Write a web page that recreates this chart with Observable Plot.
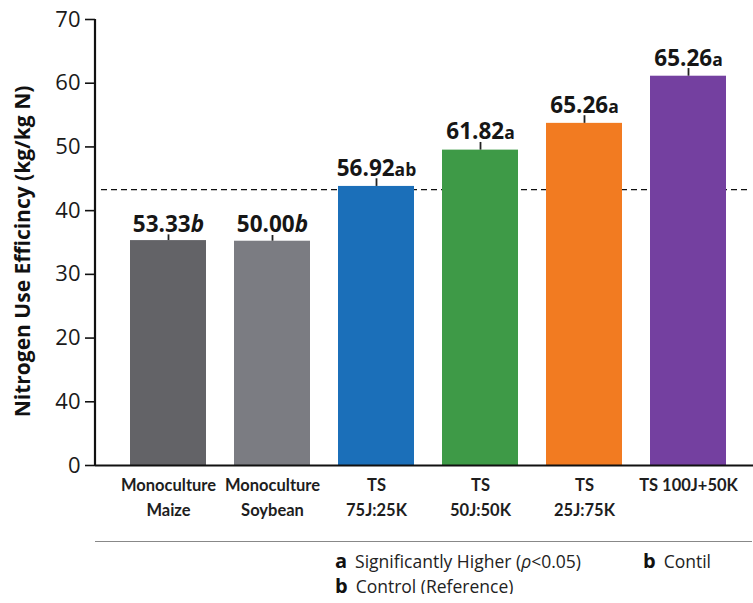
<!DOCTYPE html>
<html>
<head>
<meta charset="utf-8">
<script src="https://cdn.jsdelivr.net/npm/d3@7"></script>
<script src="https://cdn.jsdelivr.net/npm/@observablehq/plot@0.6"></script>
<style>
  html, body { margin: 0; background: #fff; font-family: "Open Sans", Lato, sans-serif; overflow: hidden; }
  #chart svg { display: block; }
  .rule { margin: 13px 0 0 95px; width: 657px; border-top: 1.5px solid #888; }
  .legend { position: relative; height: 52px; color: #222; font-size: 17.5px; }
  .legend div { position: absolute; white-space: nowrap; line-height: 22px; height: 22px; }
  .legend b { font-size: 20px; line-height: 20px; margin-right: 8px; color: #111; }
</style>
</head>
<body>
<div id="chart"></div>
<div class="rule"></div>
<div class="legend" id="legend"></div>
<script>
const categories = ["Monoculture\nMaize", "Monoculture\nSoybean", "TS\n75J:25K", "TS\n50J:50K", "TS\n25J:75K", "TS 100J+50K"];
const values = [35.3, 35.2, 43.8, 49.5, 53.7, 61.1];
const errors = [0.9, 0.9, 1.2, 1.2, 1.2, 1.2];
const labelNumbers = ["53.33", "50.00", "56.92", "61.82", "65.26", "65.26"];
const labelLetters = ["b", "b", "ab", "a", "a", "a"];
const colors = ["#636367", "#7b7c82", "#1b6fb9", "#3e9a47", "#f27b21", "#7440a0"];
const referenceLine = 43.3;
const yTickValues = [0, 10, 20, 30, 40, 50, 60, 70];
const yTickLabels = ["0", "40", "20", "30", "40", "50", "60", "70"];
const yTitle = "Nitrogen Use Efficincy (kg/kg N)";
const legendItems = [
  {letter: "a", text: "Significantly Higher (<i>ρ</i>&lt;0.05)", left: 335, top: 8},
  {letter: "b", text: "Contil", left: 643, top: 8},
  {letter: "b", text: "Control (Reference)", left: 335, top: 33}
];

const data = categories.map((c, i) => ({
  cat: c, value: values[i], err: errors[i], color: colors[i],
  num: labelNumbers[i], letter: labelLetters[i]
}));

const font = "'Open Sans', Lato, sans-serif";

const plot = Plot.plot({
  width: 753,
  height: 528,
  marginLeft: 95,
  marginRight: 3,
  marginTop: 19,
  marginBottom: 63,
  style: {fontFamily: font, color: "#1a1a1a", background: "#fff"},
  x: {domain: categories, paddingInner: 0.27, paddingOuter: 0.27, align: 0.6, label: null},
  y: {domain: [0, 70], label: null},
  marks: [
    Plot.ruleY([referenceLine], {stroke: "#111", strokeWidth: 1.3, strokeDasharray: "6,4", insetLeft: 6}),
    Plot.barY(data, {x: "cat", y: "value", fill: "color"}),
    Plot.ruleX(data, {x: "cat", y1: "value", y2: d => d.value + d.err, stroke: "#222", strokeWidth: 1.8}),
    Plot.text(data, {x: "cat", y: d => d.value + d.err, text: "num", lineAnchor: "bottom", dy: -3, fontSize: 22.5, fontWeight: "bold", fill: "#161616", className: "barlabels"}),
    Plot.axisY({ticks: yTickValues, tickFormat: (d, i) => yTickLabels[i], tickSize: 10, tickPadding: 5, fontSize: 22, stroke: "#111", strokeWidth: 1.6, fill: "#1a1a1a"}),
    Plot.ruleY([0], {stroke: "#111", strokeWidth: 2.2, insetRight: -3}),
    Plot.axisX({tickSize: 0, tickPadding: 8, fontSize: 16.5, fontWeight: "bold", fontFamily: "Lato, 'Open Sans', sans-serif", lineHeight: 1.5, fill: "#1e1e1e"}),
    Plot.text([yTitle], {frameAnchor: "left", textAnchor: "middle", dx: -72, dy: 9, rotate: -90, fontSize: 21, fontWeight: "bold", fill: "#111"})
  ]
});

// y axis line along the left edge of the frame, spanning the y scale range
const yr = plot.scale("y").range;
d3.select(plot).append("line")
  .attr("x1", 95).attr("x2", 95)
  .attr("y1", yr[0] + 1).attr("y2", yr[1])
  .attr("stroke", "#111").attr("stroke-width", 2.2);

// add letter suffixes to bar labels
d3.select(plot).selectAll("g.barlabels text").each(function(_, i) {
  const t = d3.select(this);
  t.text(null);
  t.append("tspan").text(data[i].num);
  t.append("tspan").attr("font-size", i < 2 ? 22.5 : 17.5)
    .attr("font-style", i < 2 ? "italic" : null).text(data[i].letter);
});

document.getElementById("chart").appendChild(plot);

const legend = d3.select("#legend");
legendItems.forEach(it => {
  legend.append("div").style("left", it.left + "px").style("top", it.top + "px")
    .html(`<b>${it.letter}</b>${it.text}`);
});
</script>
</body>
</html>
